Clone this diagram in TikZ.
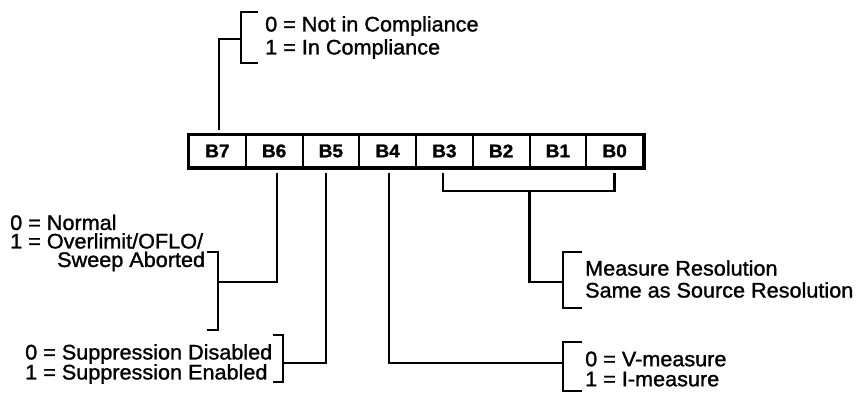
\documentclass[tikz,border=0pt]{standalone}
\usepackage{fontspec}
\setmainfont{Liberation Sans}[FakeBold=1.3, FakeStretch=1.03]
\usetikzlibrary{positioning, calc}

\tikzset{
  cell/.style={draw, line width=2pt, minimum width=56.75pt, minimum height=32pt,
    inner sep=0pt, font=\fontsize{18.5}{20}\selectfont\bfseries},
  txt/.style={align=left, inner sep=0pt, anchor=west},
  wire/.style={line width=2.6pt},
  brk/.style={line width=2.6pt, line join=miter}
}

\begin{document}
\begin{tikzpicture}[x=1pt, y=-1pt]

\useasboundingbox (0,0) rectangle (861,392);

% Register cells
\foreach \b [count=\i from 0] in {7,...,0}
  \node[cell] (b\b) at (217.4+56.75*\i,151) {B\b};
\draw[line width=3pt] (b7.north west) rectangle (b0.south east);

% Texts
\node[txt, font=\fontsize{21}{23}\selectfont] (comp) at (265,37.5)
  {0 = Not in Compliance\\1 = In Compliance};
\node[txt, font=\fontsize{21}{18.5}\selectfont] (norm) at (10,243)
  {0 = Normal\\1 = Overlimit/OFLO/\\\hspace*{47pt}Sweep Aborted};
\node[txt, font=\fontsize{21}{20}\selectfont] (supp) at (25,364)
  {0 = Suppression Disabled\\1 = Suppression Enabled};
\node[txt, font=\fontsize{21}{22}\selectfont] (res) at (585,279)
  {Measure Resolution\\Same as Source Resolution};
\node[txt, font=\fontsize{21}{20}\selectfont] (meas) at (585,369)
  {0 = V-measure\\1 = I-measure};

% Brackets
\draw[brk] (258,12) -- (241,12) -- (241,63) -- (258,63);
\draw[brk] (207,252) -- (218,252) -- (218,330) -- (207,330);
\draw[brk] (273,335) -- (283,335) -- (283,382) -- (273,382);
\draw[brk] (582,252) -- (563,252) -- (563,308) -- (582,308);
\draw[brk] (582,342) -- (563,342) -- (563,391) -- (582,391);
\coordinate (compk) at (241,39);
\coordinate (normk) at (218,282);
\coordinate (suppk) at (283,363);
\coordinate (resk) at (563,282);
\coordinate (meask) at (563,363);

% Connectors
\draw[wire] ([xshift=1.6pt, yshift=4pt]b7.north) |- (compk);
\draw[wire] ([xshift=3pt, yshift=-5pt]b6.south) |- (normk);
\draw[wire] ([xshift=-5pt, yshift=-5pt]b5.south) |- (suppk);
\draw[wire] ([xshift=1.4pt, yshift=-5pt]b4.south) |- (meask);
\draw[wire] ([xshift=-1.4pt, yshift=-5pt]b3.south) -- ++(0,18) -| ([yshift=-5pt]b0.south);
\coordinate (grp) at ($(b3.south)!0.5!(b0.south)+(0,23)$);
\draw[wire] (grp) |- (resk);

\end{tikzpicture}
\end{document}
